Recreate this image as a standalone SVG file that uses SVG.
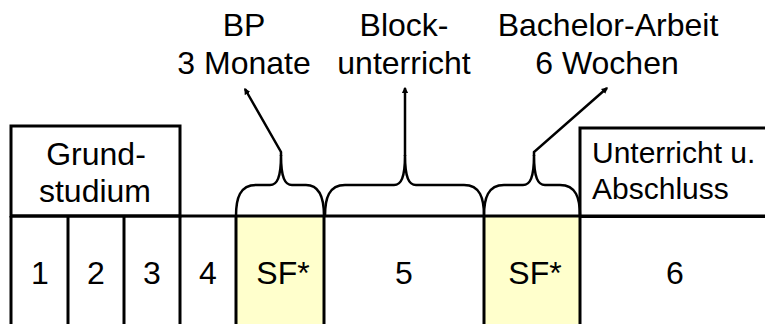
<svg xmlns="http://www.w3.org/2000/svg" width="765" height="324" viewBox="0 0 765 324">
<style>
text{font-family:"Liberation Sans",Arial,sans-serif;fill:#000;}
.t{font-size:32px;text-anchor:middle;}
.u{font-size:30px;}
.ln{stroke:#000;stroke-width:3;fill:none;}
.br{stroke:#000;stroke-width:2.5;fill:none;}
.ld{stroke:#000;stroke-width:2.5;fill:none;marker-end:url(#ah);}
.sf{fill:#FFFFCC;stroke:none;}
</style>
<defs>
<marker id="ah" viewBox="0 0 10 10" refX="8" refY="5" markerWidth="2.6" markerHeight="2.6" orient="auto" markerUnits="strokeWidth">
<path d="M0,0 L10,5 L0,10 z" fill="#000"/>
</marker>
</defs>
<g id="cells">
<rect class="sf" x="236" y="216" width="88" height="108"/>
<rect class="sf" x="484" y="216" width="96" height="108"/>
</g>
<g id="grundstudium">
<rect class="ln" x="11" y="126" width="169" height="90"/>
<text class="t" x="96" y="165">Grund-</text>
<text class="t" x="95" y="202">studium</text>
</g>
<g id="unterricht">
<path class="ln" d="M580,216 V128 H768"/>
<text class="u" x="592" y="163">Unterricht u.</text>
<text class="u" x="592" y="199">Abschluss</text>
</g>
<g id="grid">
<line class="ln" x1="11" y1="216" x2="765" y2="216"/>
<line class="ln" x1="580" y1="216.5" x2="765" y2="216.5"/>
<line class="ln" x1="11" y1="216" x2="11" y2="324"/>
<line class="ln" x1="68" y1="216" x2="68" y2="324"/>
<line class="ln" x1="124" y1="216" x2="124" y2="324"/>
<line class="ln" x1="180" y1="216" x2="180" y2="324"/>
<line class="ln" x1="236" y1="216" x2="236" y2="324"/>
<line class="ln" x1="324" y1="216" x2="324" y2="324"/>
<line class="ln" x1="484" y1="216" x2="484" y2="324"/>
<line class="ln" x1="580" y1="216" x2="580" y2="324"/>
</g>
<g id="labels">
<text class="t" x="40" y="284">1</text>
<text class="t" x="96" y="284">2</text>
<text class="t" x="152" y="284">3</text>
<text class="t" x="208" y="284">4</text>
<text class="t" x="283" y="284">SF*</text>
<text class="t" x="404" y="284">5</text>
<text class="t" x="535" y="284">SF*</text>
<text class="t" x="675" y="284">6</text>
</g>
<g id="bp">
<text class="t" x="244" y="36">BP</text>
<text class="t" x="244" y="74">3 Monate</text>
</g>
<g id="block">
<text class="t" x="404" y="36">Block-</text>
<text class="t" x="404" y="74">unterricht</text>
</g>
<g id="bachelor">
<text class="t" x="608" y="36">Bachelor-Arbeit</text>
<text class="t" x="607" y="74">6 Wochen</text>
</g>
<g id="connectors">
<path class="br" d="M236,216 C236,198 240,185 256,185 H270 C277,185 281,178 281,155 C281,178 285,185 292,185 H306 C320,185 324,198 324,216"/>
<path class="br" d="M325,216 C325,198 329,185 345,185 H394 C401,185 405,178 405,155 C405,178 409,185 416,185 H464 C480,185 484,198 484,216"/>
<path class="br" d="M484,216 C484,198 488,185 504,185 H523 C530,185 534,178 534,155 C534,178 538,185 545,185 H560 C576,185 580,198 580,216"/>
<path class="ld" d="M281,156 V152 L245,89"/>
<path class="ld" d="M405,156 V88"/>
<path class="ld" d="M534,156 V152 L607,88"/>
</g>
</svg>
